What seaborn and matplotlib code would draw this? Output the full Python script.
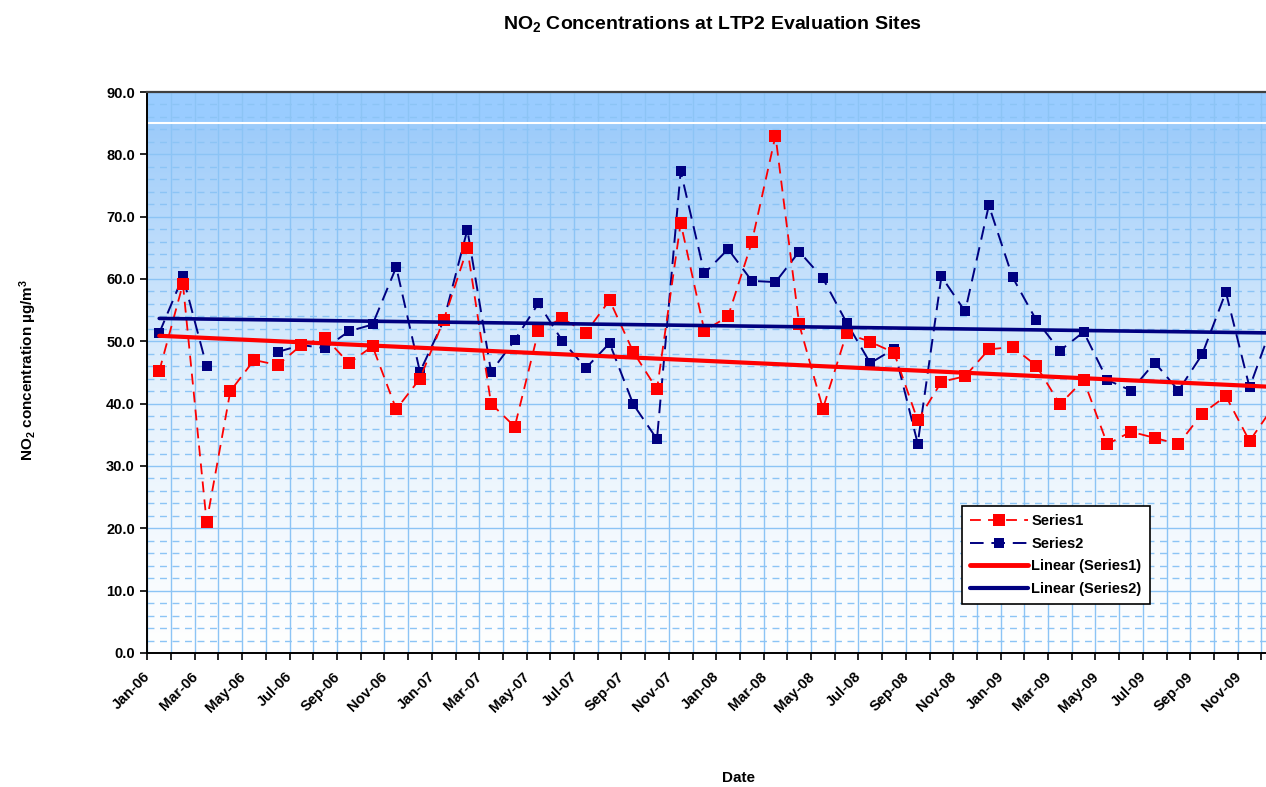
import numpy as np
import pandas as pd
import matplotlib
matplotlib.use('Agg')
import matplotlib.pyplot as plt
import matplotlib.transforms as mtrans
from matplotlib.colors import LinearSegmentedColormap
from matplotlib.lines import Line2D
import seaborn as sns

# monthly NO2 values
months = pd.date_range('2006-01-01', periods=48, freq='MS')
series1 = [45.2, 59.2, 21.0, 42.0, 47.0, 46.2, 49.4, 50.6, 46.5, 49.2,
           39.1, 44.0, 53.4, 64.9, 40.0, 36.3, 51.7, 53.7, 51.4, 56.6,
           48.3, 42.3, 69.0, 51.7, 54.0, 65.9, 83.0, 52.7, 39.2, 51.3,
           49.9, 48.2, 37.3, 43.5, 44.4, 48.7, 49.1, 46.1, 39.9, 43.8,
           33.5, 35.5, 34.5, 33.5, 38.4, 41.2, 34.0, 39.5]
series2 = [51.3, 60.4, 46.0, np.nan, np.nan, 48.3, 49.4, 48.9, 51.6, 52.7,
           61.9, 45.1, 53.3, 67.9, 45.1, 50.2, 56.1, 50.1, 45.7, 49.7,
           39.9, 34.3, 77.3, 60.9, 64.8, 59.7, 59.5, 64.4, 60.1, 53.0,
           46.5, 48.8, 33.6, 60.4, 54.8, 71.8, 60.3, 53.4, 48.5, 51.5,
           43.8, 42.1, 46.6, 42.1, 47.9, 57.9, 42.6, 53.1]
month_labels = [m.strftime('%b-%y') for m in months]

df = pd.DataFrame({'idx': np.arange(len(months)), 's1': series1, 's2': series2})
df['seg'] = df['s2'].isna().cumsum()
df2 = df.dropna(subset=['s2'])

sns.set_style('white')
plt.rcParams['font.family'] = ['Liberation Sans', 'DejaVu Sans']
plt.rcParams['font.weight'] = 'bold'
plt.rcParams['mathtext.default'] = 'regular'
plt.rcParams['text.color'] = 'black'
plt.rcParams['xtick.color'] = 'black'
plt.rcParams['ytick.color'] = 'black'
plt.rcParams['axes.labelcolor'] = 'black'

RED = '#FF0000'
NAVY = '#000080'

fig = plt.figure(figsize=(12.66, 7.87), dpi=100)
ax = fig.add_axes([0.1164, 0.1703, 0.8987, 0.7128])

# background: solid band on top, then blue-to-white gradient
grad = np.linspace(0, 1, 256).reshape(-1, 1)
cmap = LinearSegmentedColormap.from_list('bg', ['#FFFFFF', '#E4F1FD', '#9CCBFA'])
ax.imshow(grad, extent=(-0.5, 47.5, 0, 85), origin='lower', aspect='auto',
          cmap=cmap, zorder=0)
ax.axhspan(85, 90, color='#99CCFF', zorder=0, lw=0)
ax.axhline(85, color='white', lw=1.5, zorder=0.6)

sns.lineplot(data=df, x='idx', y='s1', ax=ax, color=RED, lw=1.3,
             dashes=False, ls=(0, (6, 4)), marker='s', markersize=8.5,
             markeredgewidth=0, zorder=4)
sns.lineplot(data=df2, x='idx', y='s2', units='seg', estimator=None, ax=ax,
             color=NAVY, lw=1.4, ls=(0, (7, 4)), marker='s', markersize=6.5,
             markeredgewidth=0, zorder=3)
sns.regplot(data=df, x='idx', y='s1', ax=ax, scatter=False, ci=None,
            truncate=True, color=RED, line_kws={'lw': 3, 'zorder': 5})
sns.regplot(data=df2, x='idx', y='s2', ax=ax, scatter=False, ci=None,
            truncate=True, color=NAVY, line_kws={'lw': 2.6, 'zorder': 5})

ax.set_xlim(-0.5, 47.5)
ax.set_ylim(0, 90)
ax.set_xlabel('')
ax.set_ylabel('')

# ticks at category boundaries, labels centred on every other month
ax.set_xticks(np.arange(-0.5, 48, 1))
ax.set_xticklabels([])
ax.set_xticks(df['idx'][::2], minor=True)
ax.set_xticklabels(month_labels[::2], minor=True, rotation=45, ha='right',
                   va='top', rotation_mode='anchor', fontsize=10.5,
                   fontweight='bold')
ax.tick_params(axis='x', which='major', direction='out', length=5, width=1.2,
               bottom=True, color='black')
ax.tick_params(axis='x', which='minor', length=0, pad=12)
offset = mtrans.ScaledTranslation(-16 / 100, 0, fig.dpi_scale_trans)
for lab in ax.get_xticklabels(minor=True):
    lab.set_transform(lab.get_transform() + offset)

ax.set_yticks(np.arange(0, 91, 10))
ax.set_yticklabels([f'{v:.1f}' for v in np.arange(0, 91, 10)], fontsize=10.5,
                   fontweight='bold')
ax.set_yticks(np.arange(0, 90, 2), minor=True)
ax.tick_params(axis='y', which='major', direction='out', length=5, width=1.2,
               left=True, color='black', pad=4)
ax.tick_params(axis='y', which='minor', length=0)

ax.grid(which='major', axis='both', color='#8CC4F5', lw=1.0, zorder=0.5)
ax.grid(which='minor', axis='y', color='#8CC4F5', lw=1.0, ls=(0, (5, 4)), zorder=0.5)
ax.set_axisbelow(True)

for s in ['left', 'bottom']:
    ax.spines[s].set_color('black')
    ax.spines[s].set_linewidth(1.4)
ax.spines['top'].set_color('#404040')
ax.spines['top'].set_linewidth(1.6)
ax.spines['right'].set_visible(False)

handles = [
    Line2D([], [], color=RED, lw=1.3, ls=(0, (6, 4)), marker='s', markersize=9, markeredgewidth=0),
    Line2D([], [], color=NAVY, lw=1.4, ls=(0, (7, 4)), marker='s', markersize=7, markeredgewidth=0),
    Line2D([], [], color=RED, lw=3.5),
    Line2D([], [], color=NAVY, lw=3),
]
leg = ax.legend(handles, ['Series1', 'Series2', 'Linear (Series1)', 'Linear (Series2)'],
                loc='lower left', bbox_to_anchor=(0.716, 0.087), frameon=True,
                fancybox=False, edgecolor='black', facecolor='white',
                framealpha=1, fontsize=10.5, handlelength=4.0, handletextpad=0.2,
                borderpad=0.55, labelspacing=0.6, borderaxespad=0)
leg.get_frame().set_linewidth(1.2)
for t in leg.get_texts():
    t.set_fontweight('bold')
leg.set_zorder(10)

fig.text(0.563, 0.970, 'NO$_2$ Concentrations at LTP2 Evaluation Sites',
         ha='center', va='center', fontsize=14, fontweight='bold')
fig.text(0.022, 0.53, 'NO$_2$ concentration µg/m$^3$', rotation=90,
         ha='center', va='center', fontsize=11, fontweight='bold')
fig.text(0.583, 0.012, 'Date', ha='center', va='center', fontsize=11,
         fontweight='bold')

fig.savefig('out.png', dpi=100)
